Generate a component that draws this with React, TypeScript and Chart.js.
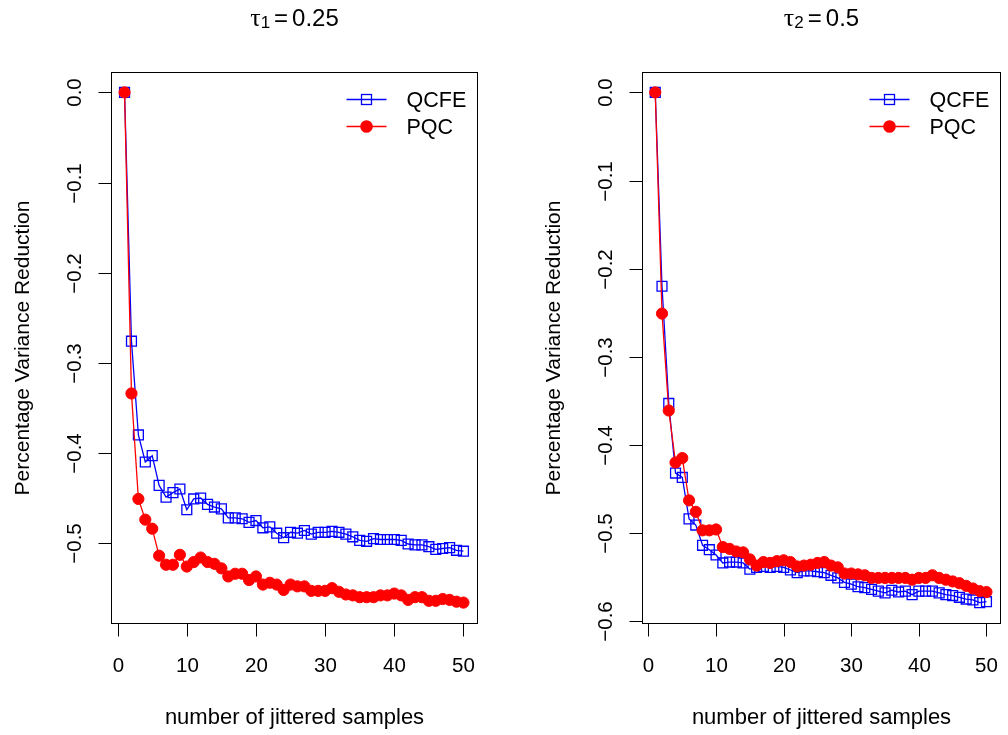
import React, { useEffect, useRef } from "react";
import { Chart, registerables } from "chart.js";

Chart.register(...registerables);

const samples = [1, 2, 3, 4, 5, 6, 7, 8, 9, 10, 11, 12, 13, 14, 15, 16, 17, 18, 19, 20, 21, 22, 23, 24, 25, 26, 27, 28, 29, 30, 31, 32, 33, 34, 35, 36, 37, 38, 39, 40, 41, 42, 43, 44, 45, 46, 47, 48, 49, 50];

const qcfeTau1 = [0, -0.276, -0.38, -0.41, -0.403, -0.436, -0.449, -0.444, -0.44, -0.463, -0.451, -0.45, -0.457, -0.46, -0.462, -0.472, -0.472, -0.473, -0.477, -0.475, -0.483, -0.482, -0.489, -0.494, -0.488, -0.489, -0.486, -0.49, -0.488, -0.488, -0.487, -0.488, -0.49, -0.493, -0.497, -0.498, -0.495, -0.496, -0.496, -0.496, -0.497, -0.501, -0.502, -0.502, -0.504, -0.507, -0.506, -0.505, -0.508, -0.509];
const pqcTau1 = [0, -0.334, -0.451, -0.474, -0.484, -0.514, -0.524, -0.524, -0.513, -0.526, -0.521, -0.516, -0.521, -0.523, -0.528, -0.537, -0.534, -0.534, -0.541, -0.537, -0.546, -0.544, -0.546, -0.552, -0.546, -0.548, -0.548, -0.553, -0.553, -0.553, -0.55, -0.554, -0.557, -0.558, -0.56, -0.56, -0.56, -0.558, -0.558, -0.556, -0.558, -0.563, -0.56, -0.56, -0.564, -0.564, -0.562, -0.563, -0.565, -0.566];

const qcfeTau2 = [0, -0.22, -0.353, -0.432, -0.437, -0.484, -0.491, -0.514, -0.519, -0.525, -0.534, -0.533, -0.533, -0.534, -0.541, -0.539, -0.538, -0.539, -0.538, -0.539, -0.542, -0.545, -0.543, -0.543, -0.544, -0.545, -0.548, -0.551, -0.556, -0.558, -0.561, -0.562, -0.564, -0.566, -0.568, -0.565, -0.567, -0.566, -0.57, -0.566, -0.566, -0.566, -0.568, -0.57, -0.571, -0.573, -0.575, -0.576, -0.579, -0.578];
const pqcTau2 = [0, -0.251, -0.361, -0.42, -0.415, -0.463, -0.476, -0.497, -0.497, -0.496, -0.516, -0.518, -0.521, -0.522, -0.53, -0.537, -0.533, -0.534, -0.532, -0.531, -0.533, -0.538, -0.537, -0.536, -0.534, -0.533, -0.537, -0.539, -0.546, -0.546, -0.547, -0.548, -0.551, -0.551, -0.551, -0.551, -0.551, -0.551, -0.553, -0.551, -0.551, -0.548, -0.551, -0.553, -0.555, -0.557, -0.56, -0.563, -0.566, -0.567];

const xTicks = [0, 10, 20, 30, 40, 50];
const xTickLabels = ["0", "10", "20", "30", "40", "50"];
const yTicksTau1 = [0, -0.1, -0.2, -0.3, -0.4, -0.5];
const yTickLabelsTau1 = ["0.0", "\u22120.1", "\u22120.2", "\u22120.3", "\u22120.4", "\u22120.5"];
const yTicksTau2 = [0, -0.1, -0.2, -0.3, -0.4, -0.5, -0.6];
const yTickLabelsTau2 = ["0.0", "\u22120.1", "\u22120.2", "\u22120.3", "\u22120.4", "\u22120.5", "\u22120.6"];

const seriesNames = ["QCFE", "PQC"];
const xTitle = "number of jittered samples";
const yTitle = "Percentage Variance Reduction";

const SANS = '"Liberation Sans", Arial, Helvetica, sans-serif';
const BLUE = "#0000ff";
const RED = "#ff0000";

type PanelProps = {
  left: number;
  tauSub: string;
  tauValue: string;
  qcfe: number[];
  pqc: number[];
  yTicks: number[];
  yTickLabels: string[];
  padLeft: number;
  padRight: number;
};

function Panel(props: PanelProps) {
  const ref = useRef<HTMLCanvasElement>(null);
  useEffect(() => {
    const { tauSub, tauValue, qcfe, pqc, yTicks, yTickLabels, padLeft, padRight } = props;
    const all = [...qcfe, ...pqc];
    const yLo = Math.min(...all);
    const yHi = Math.max(...all);
    const yExt = (yHi - yLo) * 0.04;
    const xLo = Math.min(...samples);
    const xHi = Math.max(...samples);
    const xExt = (xHi - xLo) * 0.04;

    const decor = {
      id: "decor",
      afterDraw(chart: any) {
        const ctx = chart.ctx as CanvasRenderingContext2D;
        const ca = chart.chartArea;
        const xs = chart.scales.x;
        const ys = chart.scales.y;
        const L = Math.round(ca.left) + 0.5;
        const R = Math.round(ca.right) + 0.5;
        const T = Math.round(ca.top) + 0.5;
        const B = Math.round(ca.bottom) + 0.5;
        ctx.save();
        ctx.strokeStyle = "#000";
        ctx.lineWidth = 1;
        ctx.strokeRect(L, T, R - L, B - T);
        ctx.fillStyle = "#000";

        // x ticks
        ctx.font = `20.5px ${SANS}`;
        ctx.textAlign = "center";
        ctx.textBaseline = "alphabetic";
        xTicks.forEach((v, i) => {
          const px = Math.round(xs.getPixelForValue(v)) + 0.5;
          ctx.beginPath();
          ctx.moveTo(px, B);
          ctx.lineTo(px, B + 13);
          ctx.stroke();
          ctx.fillText(xTickLabels[i], px, B + 48);
        });
        // y ticks
        yTicks.forEach((v, i) => {
          const py = Math.round(ys.getPixelForValue(v)) + 0.5;
          ctx.beginPath();
          ctx.moveTo(L, py);
          ctx.lineTo(L - 13, py);
          ctx.stroke();
          ctx.save();
          ctx.translate(L - 31, py);
          ctx.rotate(-Math.PI / 2);
          ctx.fillText(yTickLabels[i], 0, 0);
          ctx.restore();
        });
        // axis titles
        ctx.font = `22px ${SANS}`;
        ctx.fillText(xTitle, (L + R) / 2, B + 100);
        ctx.font = `21px ${SANS}`;
        ctx.save();
        ctx.translate(L - 83, (T + B) / 2);
        ctx.rotate(-Math.PI / 2);
        ctx.fillText(yTitle, 0, 0);
        ctx.restore();

        // title: tau_k = value
        const tauFont = `26px "Liberation Serif", "DejaVu Serif", serif`;
        const subFont = `17px ${SANS}`;
        const mainFont = `24px ${SANS}`;
        ctx.textAlign = "left";
        ctx.font = tauFont;
        const wTau = ctx.measureText("\u03c4").width;
        ctx.font = subFont;
        const wSub = ctx.measureText(tauSub).width;
        ctx.font = mainFont;
        const eq = "=";
        const wEq = ctx.measureText(eq).width;
        const wVal = ctx.measureText(tauValue).width;
        const gap1 = 4;
        const gap2 = 4;
        const total = wTau + wSub + gap1 + wEq + gap2 + wVal;
        let tx = (L + R) / 2 - total / 2;
        const base = 26;
        ctx.font = tauFont;
        ctx.fillText("\u03c4", tx, base);
        tx += wTau;
        ctx.font = subFont;
        ctx.fillText(tauSub, tx, base + 2);
        tx += wSub + gap1;
        ctx.font = mainFont;
        ctx.fillText(eq, tx, base);
        tx += wEq + gap2;
        ctx.fillText(tauValue, tx, base);

        // legend
        const rows = [
          { name: seriesNames[0], color: BLUE, y: T + 26, kind: "square" },
          { name: seriesNames[1], color: RED, y: T + 53, kind: "circle" },
        ];
        ctx.font = `21.5px ${SANS}`;
        ctx.textAlign = "left";
        rows.forEach((r) => {
          const y = Math.round(r.y) + 0.5;
          ctx.strokeStyle = r.color;
          ctx.lineWidth = 1.3;
          ctx.beginPath();
          ctx.moveTo(R - 131, y);
          ctx.lineTo(R - 91, y);
          ctx.stroke();
          const cx = R - 111;
          if (r.kind === "square") {
            ctx.strokeRect(cx - 5, y - 5, 10, 10);
          } else {
            ctx.fillStyle = r.color;
            ctx.beginPath();
            ctx.arc(cx, y, 6.3, 0, Math.PI * 2);
            ctx.fill();
          }
          ctx.fillStyle = "#000";
          ctx.fillText(r.name, R - 71, y + 7.5);
        });
        ctx.restore();
      },
    };

    const chart = new Chart(ref.current as HTMLCanvasElement, {
      type: "line",
      data: {
        datasets: [
          {
            label: seriesNames[1],
            data: samples.map((x, i) => ({ x, y: pqc[i] })),
            borderColor: RED,
            backgroundColor: RED,
            borderWidth: 1.3,
            pointStyle: "circle",
            pointRadius: 5.6,
            pointBorderWidth: 1,
            pointBorderColor: RED,
            pointBackgroundColor: RED,
            order: 0,
          },
          {
            label: seriesNames[0],
            data: samples.map((x, i) => ({ x, y: qcfe[i] })),
            borderColor: BLUE,
            backgroundColor: "rgba(0,0,0,0)",
            borderWidth: 1.3,
            pointStyle: "rect",
            pointRadius: 7,
            pointBorderWidth: 1.3,
            pointBorderColor: BLUE,
            pointBackgroundColor: "rgba(0,0,0,0)",
            order: 1,
          },
        ],
      },
      options: {
        animation: false,
        responsive: false,
        events: [],
        layout: { padding: { left: padLeft, right: padRight, top: 72, bottom: 112 } },
        plugins: { legend: { display: false }, tooltip: { enabled: false }, title: { display: false } },
        scales: {
          x: { type: "linear", display: false, min: xLo - xExt, max: xHi + xExt },
          y: { type: "linear", display: false, min: yLo - yExt, max: yHi + yExt },
        },
      },
      plugins: [decor],
    } as any);
    return () => chart.destroy();
  }, []);

  return (
    <canvas
      ref={ref}
      width={504}
      height={735}
      style={{ position: "absolute", left: props.left, top: 0, width: 504, height: 735 }}
    />
  );
}

export default function App() {
  return (
    <div style={{ position: "absolute", left: 0, top: 0, width: 1008, height: 735, background: "#fff", overflow: "hidden" }}>
      <Panel
        left={0}
        tauSub="1"
        tauValue="0.25"
        qcfe={qcfeTau1}
        pqc={pqcTau1}
        yTicks={yTicksTau1}
        yTickLabels={yTickLabelsTau1}
        padLeft={111}
        padRight={27}
      />
      <Panel
        left={504}
        tauSub="2"
        tauValue="0.5"
        qcfe={qcfeTau2}
        pqc={pqcTau2}
        yTicks={yTicksTau2}
        yTickLabels={yTickLabelsTau2}
        padLeft={138}
        padRight={1}
      />
    </div>
  );
}
